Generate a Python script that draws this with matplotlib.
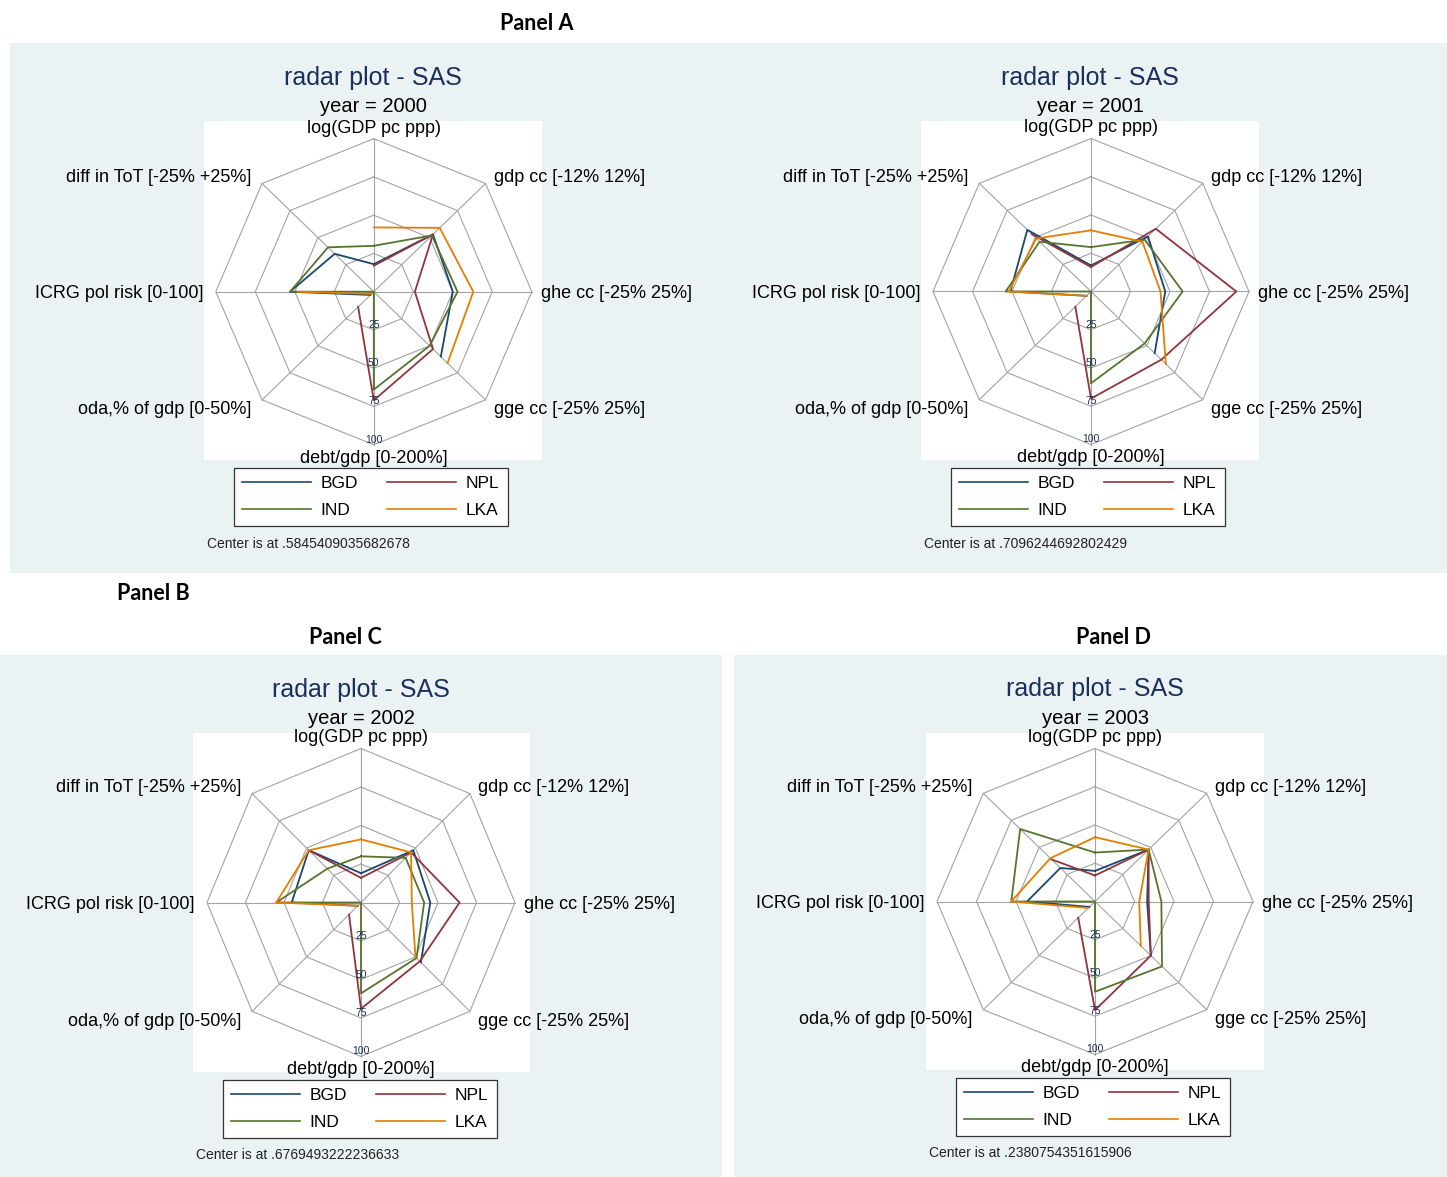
import numpy as np
import matplotlib
matplotlib.use("Agg")
import matplotlib.pyplot as plt
from matplotlib.patches import Rectangle
from matplotlib.lines import Line2D

W, H = 1447, 1177
nan = np.nan

# ---- data -------------------------------------------------------------
axis_labels = ["log(GDP pc ppp)", "gdp cc [-12% 12%]", "ghe cc [-25% 25%]",
               "gge cc [-25% 25%]", "debt/gdp [0-200%]", "oda,% of gdp [0-50%]",
               "ICRG pol risk [0-100]", "diff in ToT [-25% +25%]"]
countries = ["BGD", "NPL", "IND", "LKA"]
ring_levels = [25, 50, 75, 100]
years = [2000, 2001, 2002, 2003]
center_values = [".5845409035682678", ".7096244692802429",
                 ".6769493222236633", ".2380754351615906"]

# scores on a 0-100 radial scale, axes in the order of axis_labels
values_2000 = {"BGD": [18, 53, 50, 60, nan, 3, 53, 35],
               "NPL": [17, 53, 26, 53, 71, 14, nan, nan],
               "IND": [30, 52, 53, 50, 64, 0, 53, 41],
               "LKA": [42, 59, 63, 66, nan, 2, 48, nan]}
values_2001 = {"BGD": [17, 51, 47, 57, nan, 4, 51, 57],
               "NPL": [16, 58, 92, 63, 70, 14, nan, 53],
               "IND": [29, 48, 58, 48, 60, 0, 54, 46],
               "LKA": [40, 46, 44, 67, nan, 4, 52, 49]}
values_2002 = {"BGD": [19, 48, 45, 55, nan, 3, 45, 48],
               "NPL": [16, 46, 64, 54, 69, 11, nan, 48],
               "IND": [30, 41, 41, 51, 59, 0, 55, 31],
               "LKA": [41, 46, 33, 50, nan, 3, 55, 48]}
values_2003 = {"BGD": [20, 48, 33, 50, nan, 5, 43, 31],
               "NPL": [17, 48, 34, 50, 71, 15, nan, 39],
               "IND": [32, 48, 42, 60, 59, 0, 53, 67],
               "LKA": [42, 48, 28, 41, nan, 6, 53, 40]}
all_values = [values_2000, values_2001, values_2002, values_2003]

# ---- styling ----------------------------------------------------------
colors = {"BGD": "#1a476f", "NPL": "#90353b", "IND": "#55752f", "LKA": "#e37e00"}
panel_bg = "#eaf2f3"
title_col = "#1c2e5b"
grid_col = "#a3a3a3"
FONT = "Liberation Sans"

# layout of each radar chart in pixels (origin top-left)
layouts = [
    dict(white=(204, 121, 542, 460), c=(373.8, 291.7), rh=158, rv=153,
         tx=373, ty=76, yy=105, leg=(234, 468), ctext=(207, 543)),
    dict(white=(921, 121, 1259, 460), c=(1091.0, 291.5), rh=158, rv=153,
         tx=1090, ty=76, yy=105, leg=(951, 468), ctext=(924, 543)),
    dict(white=(193, 733, 530, 1072), c=(361.0, 902.5), rh=154, rv=154,
         tx=361, ty=688, yy=717, leg=(223, 1080), ctext=(196, 1154)),
    dict(white=(926, 733, 1264, 1070), c=(1095.0, 901.5), rh=158, rv=153,
         tx=1095, ty=687, yy=716, leg=(956, 1078), ctext=(929, 1152)),
]

DY = 2  # small downward nudge for vertically centred text


def fx(x):
    return x / W


def fy(y):
    return 1 - y / H


fig = plt.figure(figsize=(W / 100, H / 100), dpi=100)
fig.patch.set_facecolor("white")

# background panels
for (x0, y0, x1, y1) in [(10, 43, 1447, 573), (0, 655, 722, 1177), (734, 655, 1447, 1177)]:
    fig.patches.append(Rectangle((fx(x0), fy(y1)), fx(x1 - x0), (y1 - y0) / H,
                                 transform=fig.transFigure, facecolor=panel_bg,
                                 edgecolor="none", zorder=-5))

# panel captions
for txt, x, y in [("Panel A", 537, 22), ("Panel B", 153, 593),
                  ("Panel C", 345, 637), ("Panel D", 1113, 637)]:
    fig.text(fx(x), fy(y + 1), txt, ha="center", va="center", fontsize=15.5,
             fontweight="bold", family="Lato", color="black")

theta = np.deg2rad(np.arange(8) * 45.0)


def polar_to_xy(vals, rh, rv):
    v = np.asarray(vals, dtype=float) / 100.0
    x = v * rh * np.sin(theta)
    y = v * rv * np.cos(theta)
    return np.append(x, x[0]), np.append(y, y[0])


for year, vals, lay, cval in zip(years, all_values, layouts, center_values):
    x0, y0, x1, y1 = lay["white"]
    cx, cy = lay["c"]
    rh, rv = lay["rh"], lay["rv"]
    ax = fig.add_axes([fx(x0), fy(y1), (x1 - x0) / W, (y1 - y0) / H])
    ax.set_zorder(1)
    ax.set_xlim(x0 - cx, x1 - cx)
    ax.set_ylim(cy - y1, cy - y0)
    ax.set_facecolor("white")
    ax.set_xticks([])
    ax.set_yticks([])
    for s in ax.spines.values():
        s.set_visible(False)

    # octagonal grid and spokes
    for lvl in ring_levels:
        gx, gy = polar_to_xy([lvl] * 8, rh, rv)
        ax.plot(gx, gy, color=grid_col, lw=0.8, zorder=1)
    for t in theta:
        ax.plot([0, rh * np.sin(t)], [0, rv * np.cos(t)], color=grid_col, lw=0.8, zorder=1)
    for lvl in ring_levels:
        ax.text(0, -lvl / 100 * rv, str(lvl), ha="center", va="bottom", fontsize=7.5,
                color=title_col, family=FONT, zorder=3)

    # series
    for ctry in countries:
        sx, sy = polar_to_xy(vals[ctry], rh, rv)
        ax.plot(sx, sy, color=colors[ctry], lw=1.3, zorder=2, label=ctry)

    # axis labels
    d = 0.7071
    lab_kw = dict(fontsize=13, family=FONT, color="black", clip_on=False)
    ax.text(0, rv + 2, axis_labels[0], ha="center", va="bottom", **lab_kw)
    ax.text(rh * d + 8, rv * d + 8 - DY, axis_labels[1], ha="left", va="center", **lab_kw)
    ax.text(rh + 9, -DY, axis_labels[2], ha="left", va="center", **lab_kw)
    ax.text(rh * d + 8, -rv * d - 8 - DY, axis_labels[3], ha="left", va="center", **lab_kw)
    ax.text(0, -rv - 5, axis_labels[4], ha="center", va="top", **lab_kw)
    ax.text(-rh * d - 11, -rv * d - 8 - DY, axis_labels[5], ha="right", va="center", **lab_kw)
    ax.text(-rh - 12, -DY, axis_labels[6], ha="right", va="center", **lab_kw)
    ax.text(-rh * d - 11, rv * d + 8 - DY, axis_labels[7], ha="right", va="center", **lab_kw)

    # titles
    fig.text(fx(lay["tx"]), fy(lay["ty"] + DY), "radar plot - SAS", ha="center",
             va="center", fontsize=18, color=title_col, family=FONT)
    fig.text(fx(lay["tx"]), fy(lay["yy"] + DY), f"year = {year}", ha="center",
             va="center", fontsize=14.5, color="black", family=FONT)

    # legend (two columns: BGD/IND, NPL/LKA)
    order = ["BGD", "IND", "NPL", "LKA"]
    handles = [Line2D([], [], color=colors[c], lw=1.2) for c in order]
    lx, ly = lay["leg"]
    leg = ax.legend(handles, order, ncol=2, loc="upper left",
                    bbox_to_anchor=(fx(lx), fy(ly)), bbox_transform=fig.transFigure,
                    frameon=True, fancybox=False, edgecolor="#333333", framealpha=1,
                    borderaxespad=0, borderpad=0.48, handlelength=3.95,
                    handletextpad=0.55, columnspacing=1.7, labelspacing=0.64,
                    prop=dict(family=FONT, size=12.5))
    leg.get_frame().set_linewidth(0.9)

    fig.text(fx(lay["ctext"][0]), fy(lay["ctext"][1] + 1), f"Center is at {cval}",
             ha="left", va="center", fontsize=10, color="#222222", family=FONT)

fig.savefig("out.png", dpi=100, facecolor="white")
